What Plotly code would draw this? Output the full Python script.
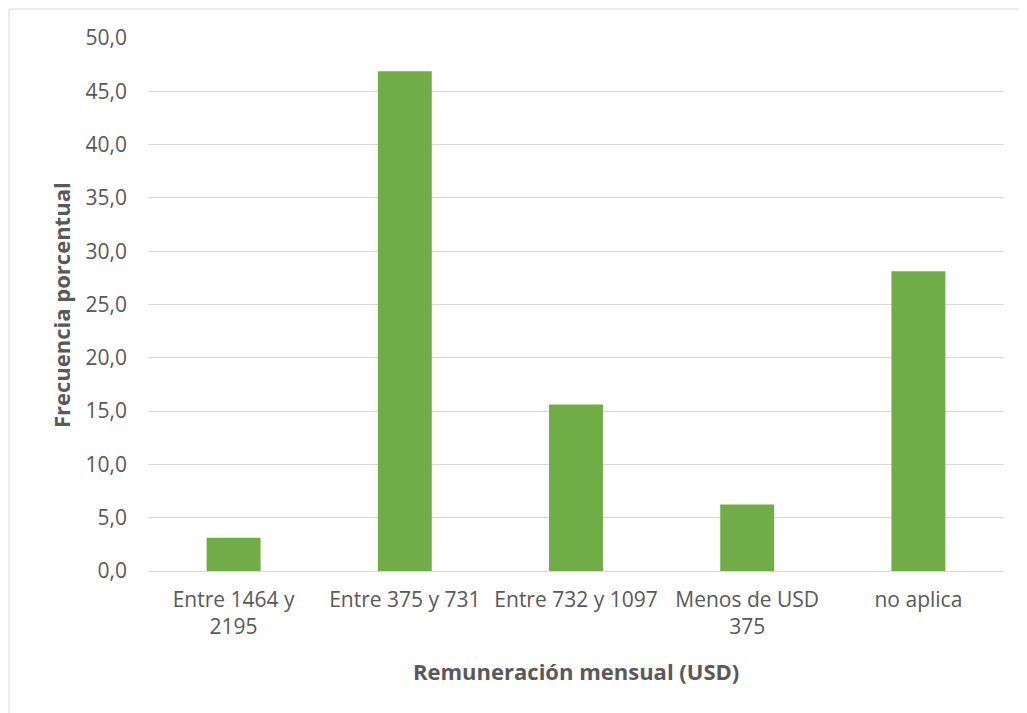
import plotly.graph_objects as go

categories = ["Entre 1464 y<br>2195", "Entre 375 y 731", "Entre 732 y 1097", "Menos de USD<br>375", "no aplica"]
values = [3.125, 46.875, 15.625, 6.25, 28.125]
y_ticks = [0, 5, 10, 15, 20, 25, 30, 35, 40, 45, 50]

# page body has an 8px margin; figure coordinates are page coordinates - 8
OFF = 8
W, H = 1027 - OFF, 713 - OFF
L, T = 148 - OFF, 38 - OFF
Rr, Bb = 1004 - OFF, 571 - OFF
R, B = W - Rr, H - Bb
pw, ph = Rr - L, Bb - T

def px(xpage):
    return (xpage - OFF - L) / pw

def py(ypage):
    return (Bb - (ypage - OFF)) / ph

fig = go.Figure(go.Bar(x=categories, y=values, marker_color="#70ad47",
                       marker_line_width=0, width=0.315))

font_family = "Open Sans, Liberation Sans, sans-serif"
grey = "#595959"
fig.update_layout(
    width=W, height=H,
    margin=dict(l=L, r=R, t=T, b=B),
    paper_bgcolor="white", plot_bgcolor="white",
    separators=",.",
    showlegend=False,
    font=dict(family=font_family, size=21, color=grey),
    xaxis=dict(
        showline=False, showgrid=False, ticks="", ticklabelstandoff=14,
        tickfont=dict(size=21, color=grey),
    ),
    yaxis=dict(
        range=[0, 50], tickvals=y_ticks, tickformat=".1f",
        showgrid=True, gridcolor="#d9d9d9", gridwidth=1.3,
        zeroline=True, zerolinecolor="#d9d9d9", zerolinewidth=1.3,
        ticks="", ticklabelstandoff=20, tickfont=dict(size=21, color=grey),
    ),
    annotations=[
        dict(text="<b>Remuneración mensual (USD)</b>", xref="paper", yref="paper",
             x=px(576), y=py(671), xanchor="center", yanchor="middle", showarrow=False,
             font=dict(size=22, color=grey)),
        dict(text="<b>Frecuencia porcentual</b>", xref="paper", yref="paper",
             x=px(61), y=py(305), xanchor="center", yanchor="middle", showarrow=False,
             textangle=-90, font=dict(size=22, color=grey)),
    ],
    shapes=[dict(type="rect", xref="paper", yref="paper",
                 x0=px(9), x1=px(1040), y0=py(730), y1=py(9),
                 line=dict(color="#d9d9d9", width=1), layer="below")],
)

fig.write_html("out.html")
